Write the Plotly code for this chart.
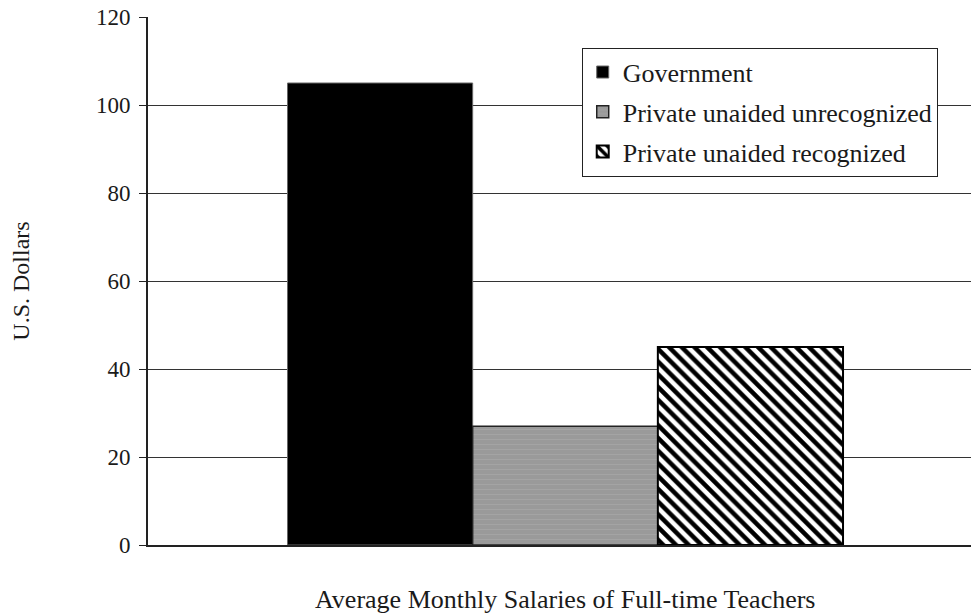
import plotly.graph_objects as go

# Average monthly salaries of full-time teachers, in U.S. dollars
category = ["Average Monthly Salaries of Full-time Teachers"]
school_types = ["Government", "Private unaided unrecognized", "Private unaided recognized"]
salaries = [105, 27, 45]

y_ticks = [0, 20, 40, 60, 80, 100, 120]

styles = [
    dict(color="#000000", line=dict(color="#666666", width=1)),
    dict(color="#9a9a9a", line=dict(color="#222222", width=1.5),
         pattern=dict(shape="-", fgcolor="#b4b4b4", bgcolor="#9a9a9a", size=5, solidity=0.15)),
    dict(color="#ffffff", line=dict(color="#000000", width=2),
         pattern=dict(shape="\\", fgcolor="#000000", bgcolor="#ffffff", size=9, solidity=0.5,
                      fillmode="replace")),
]

fig = go.Figure()
for name, val, st in zip(school_types, salaries, styles):
    fig.add_trace(go.Bar(
        x=category, y=[val], name=name, marker=st, legendgroup=name,
    ))

serif = "Liberation Serif"
ink = "#1a1a1a"

fig.update_layout(
    width=972, height=614,
    margin=dict(l=148, r=1, t=17, b=69),
    paper_bgcolor="white", plot_bgcolor="white",
    barmode="group", bargap=0.325, bargroupgap=0,
    font=dict(family=serif, size=23, color=ink),
    showlegend=True,
    legend=dict(
        x=0.527, y=0.942, xanchor="left", yanchor="top",
        bgcolor="white", bordercolor="#222222", borderwidth=1,
        font=dict(family=serif, size=26, color=ink),
        tracegroupgap=3, traceorder="grouped", itemwidth=30,
    ),
    xaxis=dict(
        range=[-0.507, 0.493], automargin=False,
        showgrid=False, showline=True, linecolor="#222222", linewidth=1.5,
        ticks="", ticklabelstandoff=30,
        tickfont=dict(family=serif, size=26, color=ink),
    ),
    yaxis=dict(
        range=[0, 120], tickvals=y_ticks, automargin=False,
        showgrid=True, gridcolor="#333333", gridwidth=1.3,
        showline=True, linecolor="#222222", linewidth=2,
        ticks="outside", ticklen=7, tickcolor="#222222", tickwidth=1.3,
        ticklabelstandoff=4,
        tickfont=dict(family=serif, size=23, color=ink),
        zeroline=False,
        title=dict(text="U.S. Dollars", standoff=60,
                   font=dict(family=serif, size=24, color=ink)),
    ),
)

fig.write_html("out.html")
